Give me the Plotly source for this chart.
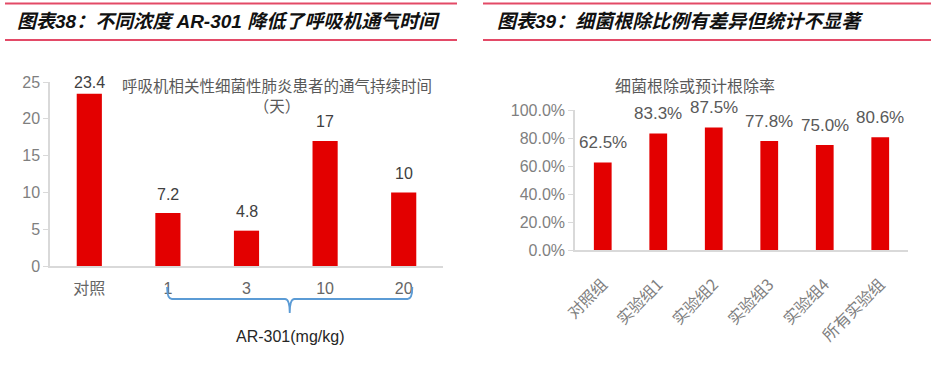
import plotly.graph_objects as go

# ---------------- data ----------------
left_categories = ["对照", "1", "3", "10", "20"]
left_values = [23.4, 7.2, 4.8, 17, 10]
left_labels = ["23.4", "7.2", "4.8", "17", "10"]
left_yticks = [0, 5, 10, 15, 20, 25]

right_categories = ["对照组", "实验组1", "实验组2", "实验组3", "实验组4", "所有实验组"]
right_values = [0.625, 0.833, 0.875, 0.778, 0.750, 0.806]
right_labels = ["62.5%", "83.3%", "87.5%", "77.8%", "75.0%", "80.6%"]
right_yticks = [0, 0.2, 0.4, 0.6, 0.8, 1.0]

left_title = "图表38：不同浓度 AR-301 降低了呼吸机通气时间"
right_title = "图表39：细菌根除比例有差异但统计不显著"
left_chart_title = "呼吸机相关性细菌性肺炎患者的通气持续时间<br>（天）"
right_chart_title = "细菌根除或预计根除率"
left_axis_title = "AR-301(mg/kg)"

# ---------------- layout helpers ----------------
W, H = 931, 377
def px(p):
    return p / W
def py(p):
    return (H - p) / H

BAR = "#E30000"
GRID = "#d9d9d9"
CJK = "Noto Sans CJK SC"
LAT = "Arial, Liberation Sans, " + CJK
TITLE_RED = "#e34a67"

left_idx = list(range(len(left_categories)))
right_idx = list(range(len(right_categories)))

fig = go.Figure()
fig.add_trace(go.Bar(x=left_idx, y=left_values, marker_color=BAR,
                     marker_line_width=0, xaxis="x", yaxis="y", showlegend=False,
                     hovertext=left_categories, hoverinfo="text+y"))
fig.add_trace(go.Bar(x=right_idx, y=right_values, marker_color=BAR,
                     marker_line_width=0, xaxis="x2", yaxis="y2", showlegend=False,
                     hovertext=right_categories, hoverinfo="text+y"))

left_top, left_bot = 82, 266
right_top, right_bot = 110, 250
left_ymax = left_yticks[-1]
left_ppu = (left_bot - left_top) / left_ymax

annotations = []
for i, v, t in zip(left_idx, left_values, left_labels):
    annotations.append(dict(x=i, y=v, xref="x", yref="y", text=t, showarrow=False,
                            yshift=min(19, (left_ymax - v) * left_ppu), yanchor="middle",
                            font=dict(family=LAT, size=16, color="#404040")))
for i, v, t in zip(right_idx, right_values, right_labels):
    annotations.append(dict(x=i, y=v, xref="x2", yref="y2", text=t, showarrow=False,
                            yshift=20, yanchor="middle",
                            font=dict(family=LAT, size=17, color="#595959")))

# headers
annotations.append(dict(x=px(15), y=py(21), xref="paper", yref="paper", text="<b><i>" + left_title + "</i></b>",
                        showarrow=False, xanchor="left", yanchor="middle",
                        font=dict(family=LAT, size=19, color="#111111")))
annotations.append(dict(x=px(495), y=py(21), xref="paper", yref="paper", text="<b><i>" + right_title + "</i></b>",
                        showarrow=False, xanchor="left", yanchor="middle",
                        font=dict(family=LAT, size=19, color="#111111")))
# chart titles
annotations.append(dict(x=px(277), y=py(95), xref="paper", yref="paper", text=left_chart_title,
                        showarrow=False, xanchor="center", yanchor="middle",
                        font=dict(family=CJK, size=15.5, color="#595959")))
annotations.append(dict(x=px(695), y=py(85), xref="paper", yref="paper", text=right_chart_title,
                        showarrow=False, xanchor="center", yanchor="middle",
                        font=dict(family=CJK, size=16, color="#595959")))
# axis group title
a, b = 0.99, 4.11
c = (a + b) / 2
annotations.append(dict(x=c, y=py(336), xref="x", yref="paper", text=left_axis_title,
                        showarrow=False, xanchor="center", yanchor="middle",
                        font=dict(family=LAT, size=16, color="#262626")))

shapes = [
    dict(type="line", xref="paper", yref="paper", x0=px(5), x1=px(457), y0=py(3.5), y1=py(3.5),
         line=dict(color=TITLE_RED, width=2)),
    dict(type="line", xref="paper", yref="paper", x0=px(5), x1=px(457), y0=py(40), y1=py(40),
         line=dict(color=TITLE_RED, width=2)),
    dict(type="line", xref="paper", yref="paper", x0=px(483), x1=px(931), y0=py(3.5), y1=py(3.5),
         line=dict(color=TITLE_RED, width=2)),
    dict(type="line", xref="paper", yref="paper", x0=px(483), x1=px(931), y0=py(40), y1=py(40),
         line=dict(color=TITLE_RED, width=2)),
]
# brace under dose categories
yt, ym, yb = py(287), py(299), py(313)
brace = (f"M {a},{yt} Q {a},{ym} {a+0.06},{ym} L {c-0.06},{ym} Q {c},{ym} {c},{yb} "
         f"Q {c},{ym} {c+0.06},{ym} L {b-0.06},{ym} Q {b},{ym} {b},{yt}")
shapes.append(dict(type="path", xref="x", yref="paper", path=brace,
                   line=dict(color="#5B9BD5", width=1.8)))

fig.update_layout(
    template="none",
    width=W, height=H, margin=dict(l=0, r=0, t=0, b=0, pad=0, autoexpand=False),
    paper_bgcolor="white", plot_bgcolor="white",
    bargap=0.68, showlegend=False,
    annotations=annotations, shapes=shapes,
    xaxis=dict(domain=[px(50), px(443)], range=[-0.5, len(left_idx) - 0.5], tickvals=left_idx,
               ticktext=left_categories, tickangle=0, showline=True, linecolor=GRID, linewidth=1.5,
               ticks="", showgrid=False, zeroline=False, tickfont=dict(family=LAT, size=16, color="#666666"),
               ticklabelstandoff=7, automargin=False, fixedrange=True),
    yaxis=dict(domain=[py(left_bot), py(left_top)], range=[0, left_ymax], tickvals=left_yticks,
               showline=True, linecolor=GRID, linewidth=1.5, ticks="outside", ticklen=5, tickcolor=GRID,
               showgrid=False, zeroline=False, tickfont=dict(family=LAT, size=16, color="#7f7f7f"),
               automargin=False, fixedrange=True),
    xaxis2=dict(domain=[px(575), px(908)], range=[-0.5, len(right_idx) - 0.5], tickvals=right_idx,
                ticktext=right_categories, anchor="y2", showline=True, linecolor=GRID,
                linewidth=1.5, ticks="", showgrid=False, zeroline=False, tickangle=-45,
                tickfont=dict(family=CJK, size=16, color="#7f7f7f"), ticklabelstandoff=17,
                automargin=False, fixedrange=True),
    yaxis2=dict(domain=[py(right_bot), py(right_top)], anchor="x2", range=[0, 1], tickvals=right_yticks,
                tickformat=".1%", showline=True, linecolor=GRID, linewidth=1.5, ticks="outside", ticklen=5,
                tickcolor=GRID, showgrid=False, zeroline=False,
                tickfont=dict(family=LAT, size=16, color="#7f7f7f"), automargin=False, fixedrange=True),
)

fig.write_html("out.html")
